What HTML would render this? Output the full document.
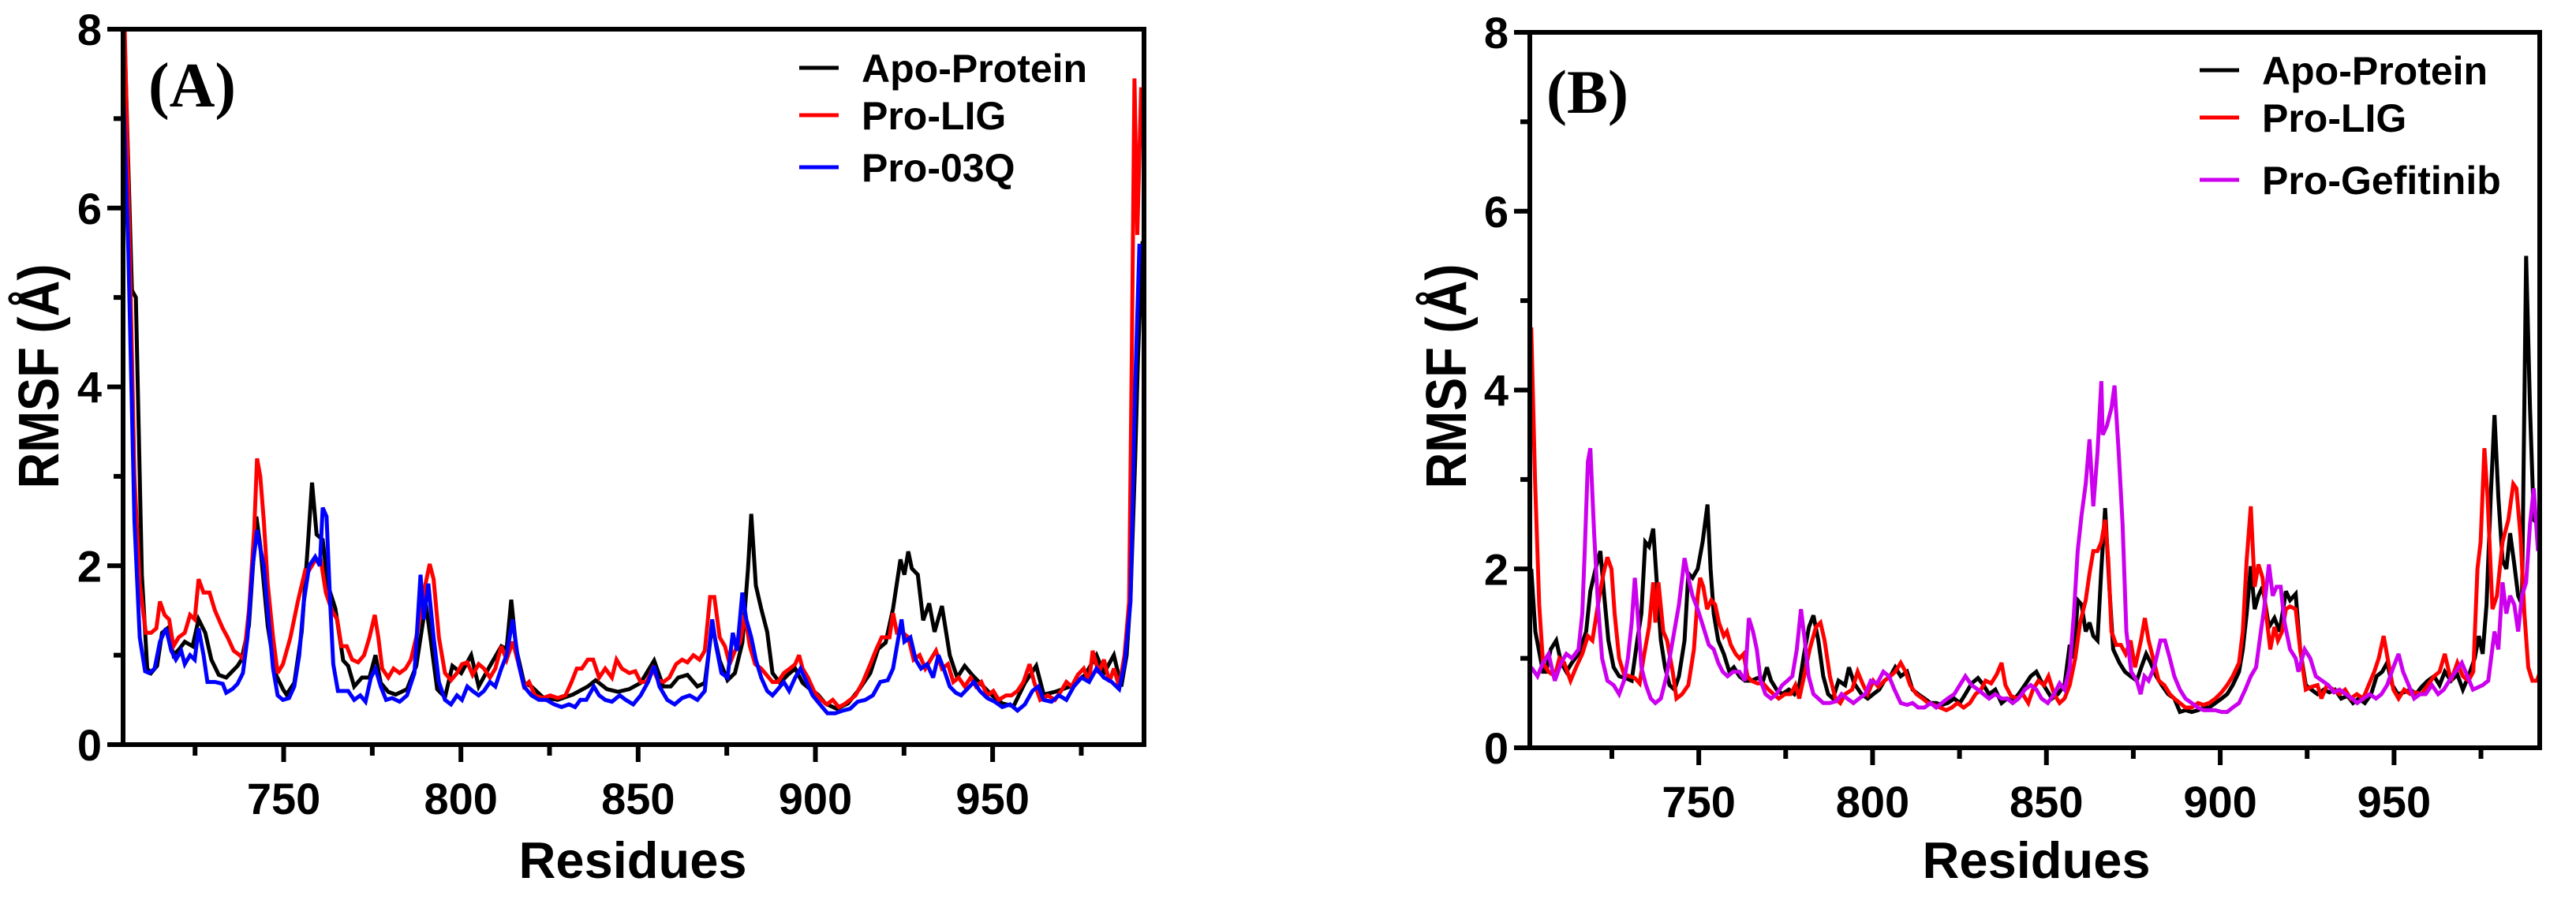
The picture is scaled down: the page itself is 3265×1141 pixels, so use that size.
<!DOCTYPE html>
<html><head><meta charset="utf-8"><style>
html,body{margin:0;padding:0;background:#fff;}
svg{display:block;}
text{font-family:"Liberation Sans",Arial,sans-serif;font-weight:bold;}
</style></head><body>
<svg id="fig" width="3265" height="1141" viewBox="0 0 3265 1141" xmlns="http://www.w3.org/2000/svg">
<defs>
<clipPath id="clipA"><rect x="156" y="37" width="1294" height="907"/></clipPath>
<clipPath id="clipB"><rect x="1939" y="41" width="1280" height="907"/></clipPath>
</defs>
<g id="panelA"></g>
<g id="panelB"></g>
</svg>
<script>
// ---------- Panel A data ----------
const apoResA=[704.7,707.2,708.3,710,711.5,712.6,714.3,715.7,717.2,718.9,720.6,722.1,724.3,726,727.9,729.6,731.7,733.8,737,738.1,740.2,742.3,743.4,745.5,747.6,749.8,750.8,753,755.1,756.8,758,759.3,761,762.5,764.6,766.8,768.2,769.9,772.1,774.2,775.9,777.4,779.5,781.6,784.8,787.4,790.1,791.6,793.3,795.5,797.6,800.1,802.9,805,808.2,811.4,812.9,814.2,815.6,817.8,819.9,823.1,827.3,831.6,835.8,838,841.2,844.3,847.5,850.7,854.5,857.1,859.2,861.3,863.9,866.7,868.8,870.9,873,875.2,877.3,879.4,881,881.9,883.2,884.7,886.4,887.9,890,892.2,894.3,896.4,898.5,900.7,902.8,906,909.2,912.4,915.5,917.7,919.8,921.9,924,925.1,926.2,927.2,928.9,930.4,932.1,933.6,935.7,937.9,940,942.1,944.2,946.4,949.6,952.7,955.9,959.1,962.3,964.4,967.6,971.9,976.1,979.3,981.4,984.2,986.3,987.8,988.9,990.2,991,992.3];
const apoA=[8.5,5.08,5.0,1.9,0.85,0.8,0.88,1.25,1.3,1.0,1.07,1.15,1.1,1.4,1.25,0.95,0.78,0.75,0.88,0.95,1.33,2.55,2.22,1.33,0.8,0.62,0.56,0.69,1.26,2.22,2.93,2.35,2.29,1.78,1.52,0.94,0.88,0.65,0.75,0.75,1.0,0.69,0.59,0.56,0.62,0.88,1.58,1.14,0.62,0.53,0.88,0.8,1.0,0.65,0.88,1.1,1.07,1.62,1.07,0.69,0.65,0.53,0.5,0.56,0.65,0.72,0.62,0.59,0.62,0.69,0.94,0.65,0.65,0.75,0.78,0.65,0.69,1.33,0.94,0.72,0.8,1.14,1.97,2.58,1.78,1.52,1.26,0.8,0.69,0.78,0.85,0.69,0.62,0.56,0.46,0.4,0.46,0.62,0.8,1.07,1.14,1.52,2.07,1.9,2.16,1.97,1.9,1.39,1.58,1.26,1.55,1.0,0.75,0.88,0.78,0.69,0.56,0.46,0.43,0.69,0.88,0.56,0.59,0.65,0.78,1.0,0.8,1.0,0.65,1.0,1.65,3.19,4.34,5.63];
const ligResA=[705.1,706.6,707.9,709.4,711.1,712.6,714.1,715.1,716.4,717.7,718.9,720.4,722.1,723.6,724.9,726,727.4,729.1,730.6,732.8,734.2,735.9,737.6,738.7,740.2,741.7,742.5,743.4,744.4,745.5,747,748.3,749.8,751.9,754,756.1,757.2,758.7,760.4,761.9,763.6,765.1,766.3,767.8,769.3,771,772.7,774.2,775.7,776.7,777.8,779.5,781,782.7,784.4,785.9,787.4,789.5,791.2,792.3,793.8,795.5,797.2,798.9,800.3,801.8,803.3,805,806.5,808.2,809.7,811.4,812.9,814.6,816.3,817.8,819.2,820.9,823.1,825.2,827.3,829.5,831.2,832.7,834.1,835.8,837.3,839,840.7,842.6,843.9,845.4,847.5,849.2,850.7,852.4,854.1,855.6,857.1,858.8,860.7,862.4,863.9,865.6,867.3,868.8,870.3,871.5,873,874.5,875.8,877.3,878.8,880.1,881.5,883,884.7,886.2,887.9,889.4,891.1,892.8,894.3,895.4,896.4,897.9,899.6,901.7,903.2,904.9,906.6,908.1,909.8,911.3,913.4,915.5,917,918.7,920.9,921.9,923,924.7,926.2,927.7,929.4,931,932.5,934,935.7,937.4,938.9,940.4,942.1,943.8,945.3,946.8,948.5,950.2,951.7,953.8,955.3,957,958.7,960.4,961.7,963.4,965.5,967.6,969.3,970.8,972.3,974,975.7,977.2,978.2,979.9,981.4,982.9,984.2,985.7,987.2,988.5,989.3,990,990.8,991.9];
const ligA=[8.1,5.5,3.0,1.8,1.25,1.25,1.3,1.6,1.45,1.4,1.1,1.2,1.25,1.45,1.4,1.85,1.7,1.7,1.5,1.3,1.2,1.05,1.0,0.95,1.5,2.4,3.2,3.0,2.5,1.8,1.2,0.8,0.9,1.2,1.6,1.95,1.95,2.05,2.08,1.7,1.5,1.4,1.1,1.1,0.95,0.92,1.0,1.2,1.45,1.2,0.85,0.75,0.85,0.8,0.85,0.95,1.2,1.7,2.02,1.85,1.2,0.8,0.72,0.8,0.9,0.92,0.78,0.9,0.85,0.75,0.85,1.1,0.95,1.15,0.9,0.65,0.7,0.55,0.52,0.55,0.52,0.55,0.7,0.85,0.85,0.95,0.95,0.75,0.85,0.75,0.95,0.85,0.8,0.82,0.7,0.7,0.85,0.72,0.7,0.75,0.9,0.95,0.92,1.0,0.95,1.05,1.65,1.65,1.2,1.1,0.9,1.05,1.15,1.45,1.1,0.9,0.85,0.78,0.7,0.7,0.8,0.85,0.9,1.0,0.85,0.75,0.6,0.5,0.45,0.5,0.42,0.45,0.5,0.55,0.7,0.9,1.05,1.2,1.2,1.47,1.25,1.25,1.2,0.95,1.0,0.85,0.95,1.05,0.85,0.9,0.7,0.75,0.65,0.75,0.65,0.7,0.55,0.6,0.5,0.55,0.55,0.6,0.7,0.9,0.7,0.5,0.55,0.5,0.6,0.7,0.65,0.78,0.85,0.7,1.05,0.8,0.95,0.7,0.85,0.65,1.0,1.6,4.5,7.45,5.7,7.35];
const q03ResA=[704.7,706.2,707.9,709.4,710.9,712.1,713.6,715.1,716.8,718.3,719.6,721.1,722.1,723.6,724.9,726,727.4,728.5,730.6,732.8,733.8,735.5,737,738.5,739.8,741.3,742.5,743.4,744.4,745.5,747,748.3,749.8,751.5,753,754.4,755.7,757.2,758.9,760.2,761,762.1,763.1,764,765.3,766.8,768.2,769.9,771.6,773.1,774.6,775.9,777.4,778.9,780.6,782.7,784.8,786.9,788.6,789.5,790.8,792.3,793.8,795.5,797.2,798.9,800.3,801.8,803.3,805,806.5,808.2,809.7,811.4,812.9,814.6,816.3,817.8,819.9,822,824.1,826.3,828.4,830.5,832.2,833.7,835.4,837.5,839,840.7,842.6,844.8,846.5,848.6,850.7,852.8,854.5,856,858.2,860.3,862.4,864.5,866.7,868.8,870.9,872,873.5,875.2,876.7,877.9,879.4,880.5,881.9,883.2,884.7,886.4,887.9,889.4,891.1,892.6,894.3,895.8,897.5,899.2,901.3,903.4,905.6,907.7,909.8,911.9,914.1,916.2,918.3,920.4,921.9,923,924.3,925.1,926.8,928.3,929.8,931.5,933.2,934.7,936.2,937.9,939.6,941.1,942.8,944.7,946.4,948.5,950.6,952.7,954.9,957,959.1,961.2,962.9,964.4,966.6,968.7,970.8,972.9,975.1,977.2,979.3,981.4,983.6,985.7,987.2,988.9,990.2,991.4];
const q03A=[7.35,5.5,2.5,1.2,0.82,0.8,0.85,1.15,1.3,1.05,0.95,1.05,0.9,1.0,0.95,1.3,1.0,0.7,0.7,0.68,0.58,0.62,0.68,0.8,1.2,2.0,2.4,2.2,2.0,1.5,0.85,0.55,0.5,0.52,0.65,1.0,1.6,2.0,2.1,2.0,2.65,2.55,1.6,0.9,0.6,0.6,0.6,0.5,0.55,0.48,0.75,0.85,0.65,0.5,0.52,0.48,0.55,0.8,1.9,1.4,1.8,1.2,0.7,0.5,0.45,0.55,0.5,0.65,0.6,0.55,0.6,0.7,0.65,0.85,1.0,1.4,0.9,0.65,0.55,0.5,0.5,0.45,0.42,0.45,0.42,0.5,0.5,0.65,0.55,0.5,0.48,0.55,0.5,0.45,0.55,0.7,0.88,0.65,0.5,0.45,0.52,0.55,0.5,0.6,1.4,1.1,0.8,0.75,1.25,1.05,1.7,1.4,1.2,0.95,0.75,0.6,0.55,0.62,0.7,0.6,0.75,0.85,0.7,0.55,0.45,0.35,0.35,0.38,0.4,0.48,0.5,0.55,0.7,0.72,0.85,1.1,1.4,1.15,1.2,0.95,0.85,0.9,0.75,1.0,0.85,0.65,0.58,0.55,0.62,0.7,0.6,0.52,0.48,0.42,0.45,0.38,0.45,0.6,0.65,0.5,0.48,0.55,0.5,0.65,0.75,0.7,0.85,0.75,0.7,0.62,0.9,1.6,4.0,5.6];

// ---------- Panel B data ----------
const apoResB=[701.8,703,705.2,706.1,707.4,709,710.4,711.9,713.5,715.4,717.6,718.8,720.3,721.7,722.8,724,725.5,727.1,728.9,730.7,732.3,733.5,734.6,735.7,736.9,738,739.1,740.3,741.6,743,744.3,745.9,747,748.2,749.7,751.1,752.5,753.4,754.3,755.6,757.2,758.8,760.1,761.7,763.3,765.1,766.9,768.5,769.6,770.8,772.4,774,775.9,777.5,778.9,780.3,781.7,783,784.4,785.8,787.2,788.6,790.2,792.1,793.2,794.7,796.8,798.6,800.2,801.9,803.4,805.1,806.5,808.1,809.9,811.5,813.1,814.9,816.7,818.3,819.9,821.6,823.5,825.1,826.7,828.5,830.3,831.9,833.5,835.3,837.1,838.7,840.3,842,843.8,845.5,847.1,848.4,850,851.6,853.3,855.2,856.7,857.9,859,860.1,861.3,862.4,863.5,864.7,865.8,866.9,868.1,869.2,871,872.6,874.2,876,877.3,878.7,880,881.6,883.2,885,886.8,888.4,890,891.8,893.6,895.2,896.8,898.6,900.4,902,903.6,905.4,906.5,907.6,908.8,909.9,911,912.2,914,915.6,917.1,918.9,920.1,921.7,923,924.6,926.2,928,929.8,931.4,933,934.8,936.6,938.2,939.8,941.6,943.4,945,946.6,948,949.5,951.1,952.9,954.7,956.3,957.9,959.7,961.5,963.1,964.6,966.4,968.2,969.8,971.4,973.2,974.4,975.5,976.6,977.8,978.9,980,981.2,982.3,983.4,984.6,985.7,986.8,988,989.1,990.2,991.4];
const apoB=[2.0,1.3,0.85,0.85,1.1,1.2,0.95,0.85,0.95,1.05,1.3,1.75,2.0,2.2,1.7,1.2,0.9,0.8,0.78,0.75,1.2,1.5,2.3,2.25,2.45,1.8,1.2,0.9,0.7,0.65,0.8,1.2,1.95,1.9,2.0,2.3,2.72,2.0,1.5,1.2,1.05,0.85,0.9,0.8,0.75,0.75,0.78,0.75,0.9,0.75,0.65,0.6,0.65,0.6,0.7,1.05,1.35,1.48,1.2,0.8,0.6,0.55,0.75,0.7,0.9,0.72,0.6,0.55,0.6,0.65,0.75,0.8,0.9,0.8,0.85,0.65,0.6,0.55,0.5,0.5,0.48,0.5,0.55,0.5,0.6,0.72,0.78,0.7,0.6,0.65,0.5,0.55,0.52,0.6,0.7,0.8,0.85,0.75,0.65,0.55,0.6,0.7,1.15,1.0,1.65,1.6,1.3,1.4,1.25,1.2,2.0,2.68,1.8,1.1,0.95,0.85,0.8,0.75,0.9,1.05,0.95,0.8,0.7,0.6,0.55,0.4,0.42,0.4,0.42,0.45,0.45,0.5,0.55,0.6,0.7,0.85,1.1,1.5,2.03,1.55,1.7,1.8,1.35,1.45,1.3,1.75,1.65,1.72,1.1,0.7,0.65,0.6,0.65,0.62,0.65,0.55,0.58,0.5,0.55,0.5,0.6,0.8,0.85,0.95,0.7,0.6,0.62,0.65,0.6,0.68,0.75,0.8,0.7,0.85,0.75,0.82,0.65,0.8,1.0,1.25,1.05,1.6,2.8,3.72,2.8,2.1,2.0,2.4,2.05,1.7,1.6,5.5,3.8,2.55,2.5];
const ligResB=[701.8,702.9,704.1,705.2,706.8,708.6,709.9,711.3,713.1,714.7,716.5,718.1,719.4,721,722.6,723.7,724.9,725.8,727.1,728.5,730.1,731.6,733,734.1,735.7,736.9,737.5,738.4,739.8,740.9,742.5,743.6,745.2,747,748.6,749.7,750.4,751.3,752.4,753.6,754.7,755.8,757.2,758.1,759.2,760.6,761.7,762.9,764,765.1,766.9,768.5,770.1,771.5,773,774.8,776.4,777.8,778.9,780.3,781.9,783.7,785,786.2,787.7,789.3,790.7,792.1,794.1,795.7,797.3,798.6,800.2,801.7,803.4,805.1,806.5,808.1,809.5,810.8,812.6,814.4,816,817.6,819.4,821.2,822.8,824.4,826.2,828,829.6,831.2,832.5,834.1,835.7,837.1,838.2,839.8,841.6,843.2,844.8,846.1,847.7,849.3,850.6,852.2,853.8,855.2,856.7,858.3,859.7,861.3,862.4,863.5,864.7,865.8,866.9,867.8,868.7,870.1,871.4,872.8,874.2,875.5,877.2,878.3,879.4,881,882.3,883.9,885.5,886.8,888.4,890,891.8,893.6,895.2,896.8,898.6,900.4,902,903.6,905.4,906.5,907.6,908.8,909.9,911,912.2,913.2,914.4,915.6,916.6,917.8,918.9,920.1,921.7,923,924.6,926.2,928,929.1,930.7,932.5,934.3,935.9,937.5,939.3,941.1,942.7,944.3,945.6,947,948.4,949.8,951.3,952.9,954.7,956.3,957.9,959.7,961.5,963.1,964.6,966.4,968.2,969.8,971.4,972.8,974,974.9,976,976.9,978.3,979.6,981.2,982.9,984.3,985.2,986.4,987.5,988.6,989.8,991.1,992];
const ligB=[4.7,3.0,1.6,0.95,0.85,0.8,1.0,0.95,0.75,0.9,1.05,1.25,1.2,1.6,1.95,2.13,2.0,1.5,1.0,0.82,0.8,0.78,0.72,1.0,1.35,1.85,1.4,1.85,1.3,1.2,0.85,0.55,0.6,0.7,1.1,1.7,1.9,1.8,1.55,1.65,1.6,1.4,1.25,1.3,1.15,1.05,1.0,1.05,0.8,0.75,0.72,0.72,0.65,0.6,0.55,0.6,0.6,0.7,0.55,0.8,1.1,1.35,1.4,1.2,0.8,0.55,0.5,0.6,0.65,0.85,0.7,0.6,0.75,0.68,0.75,0.8,0.85,0.95,0.85,0.7,0.6,0.55,0.5,0.48,0.45,0.42,0.45,0.5,0.45,0.5,0.6,0.65,0.75,0.72,0.82,0.95,0.7,0.58,0.55,0.6,0.5,0.65,0.75,0.7,0.8,0.6,0.5,0.55,0.7,1.0,1.4,1.65,1.95,2.2,2.2,2.3,2.55,2.1,1.3,1.15,1.15,1.05,1.2,0.9,1.2,1.45,1.2,0.95,0.75,0.7,0.6,0.55,0.5,0.45,0.45,0.5,0.48,0.5,0.55,0.62,0.7,0.8,0.95,1.3,2.1,2.7,1.8,2.05,1.9,1.5,1.1,1.35,1.2,1.3,1.55,1.58,1.55,1.1,0.65,0.68,0.7,0.55,0.7,0.65,0.6,0.65,0.55,0.6,0.55,0.7,0.85,1.0,1.25,0.95,0.65,0.55,0.65,0.6,0.62,0.6,0.7,0.8,0.85,1.05,0.75,0.95,0.8,0.75,0.85,2.0,2.3,3.35,2.8,1.55,1.7,2.3,2.55,2.95,2.9,2.35,1.5,0.9,0.75,0.75,0.85];
const gefResB=[701.8,703.6,705.2,706.8,708.6,710.4,711.9,713.5,715.4,716.5,717.2,718.1,718.8,719.9,721,722.2,723.7,725.5,727.1,728.5,729.6,730.7,731.6,732.6,733.5,734.8,736.2,737.5,739.1,740.7,742.5,744.3,745.9,747,748.2,749.7,751.3,752.9,754.3,755.6,756.9,758.3,759.9,761.7,763.3,764.4,765.6,766.7,767.8,769.2,770.8,772.4,774,775.5,776.9,778.2,779.4,780.5,781.6,783,784.4,785.8,787.7,789.6,791.1,792.7,794.5,796.1,797.9,799.5,801.3,803.1,804.7,806.3,808.1,809.9,811.5,813.1,814.9,816.7,818.3,819.9,821.6,823.5,825.1,826.7,828.5,830.3,831.9,833.5,835.3,837.1,838.7,840.3,842,843.8,845.5,847.1,848.6,850.4,852.2,853.8,855.2,856.7,857.9,859,860.1,861.3,862.4,863.5,864.7,865.8,866.2,867.4,868.7,869.6,870.8,871.9,873,874.4,876,877.1,878.2,879.4,881,882.8,884.1,885.5,886.8,888.4,890,891.8,893.6,895.2,896.8,898.6,900.4,902,903.6,905.4,907.2,908.8,910.3,911.7,912.6,914,915.1,916.2,917.4,918.5,920.1,921.7,922.5,924.3,925.9,927.5,929.3,931.1,932.7,934.3,936.1,937.9,939.4,941.2,943,944.8,946.4,948,949.8,951.3,952.6,954.2,955.8,957.5,959.1,960.9,962.7,964.3,965.9,967.7,969.5,971.1,972.7,975.5,977.1,978.9,980,981.2,982.3,983.4,984.6,985.7,986.8,988,989.1,990.2,991.4];
const gefB=[0.9,0.8,0.95,1.05,0.75,0.95,1.05,1.0,1.1,1.5,2.2,3.2,3.35,2.4,1.6,1.0,0.75,0.7,0.6,0.75,1.0,1.4,1.9,1.4,0.9,0.7,0.55,0.5,0.55,0.8,1.2,1.6,2.12,1.9,1.7,1.55,1.35,1.15,1.1,0.95,0.85,0.8,0.85,0.85,0.75,1.45,1.3,1.1,0.75,0.6,0.55,0.6,0.7,0.75,0.8,1.1,1.55,1.2,0.8,0.6,0.55,0.5,0.5,0.52,0.6,0.55,0.5,0.55,0.6,0.75,0.72,0.85,0.8,0.65,0.5,0.48,0.5,0.45,0.45,0.5,0.45,0.5,0.55,0.6,0.7,0.8,0.7,0.65,0.6,0.55,0.6,0.55,0.55,0.5,0.55,0.65,0.7,0.65,0.55,0.5,0.6,0.72,0.65,0.9,1.5,2.2,2.6,2.95,3.45,2.7,3.3,4.1,3.5,3.6,3.8,4.05,3.3,2.5,1.3,0.85,0.75,0.6,0.8,0.75,0.9,1.2,1.2,1.0,0.8,0.65,0.55,0.5,0.45,0.42,0.42,0.42,0.4,0.4,0.45,0.5,0.65,0.8,0.9,1.3,1.55,2.05,1.7,1.8,1.8,1.4,1.1,1.0,0.85,1.1,1.0,0.8,0.75,0.7,0.62,0.65,0.6,0.55,0.5,0.55,0.6,0.55,0.6,0.7,0.9,1.05,0.85,0.7,0.55,0.6,0.6,0.7,0.6,0.65,0.75,0.85,0.95,0.8,0.65,0.7,0.75,1.3,1.1,1.85,1.5,1.7,1.6,1.3,1.7,1.85,2.5,2.9,2.2];

// ---------- Axis config ----------
const yTicks=[0,2,4,6,8];
const yMinor=[1,3,5,7];
const xTicks=[750,800,850,900,950];
const xMinor=[725,775,825,875,925,975];

const NS='http://www.w3.org/2000/svg';
function mk(tag,attrs,parent){const e=document.createElementNS(NS,tag);for(const k in attrs)e.setAttribute(k,attrs[k]);parent.appendChild(e);return e;}

function panel(g,cfg){
  const sx=v=>cfg.L+(v-cfg.xmin)/(cfg.xmax-cfg.xmin)*(cfg.R-cfg.L);
  const sy=v=>cfg.B-(v/8)*(cfg.B-cfg.T);
  // series
  const sg=mk('g',{'clip-path':'url(#'+cfg.clip+')'},g);
  
  
  cfg.series.forEach(s=>{
    const n=Math.min(s.x.length,s.y.length);
    let pts=[];
    for(let i=0;i<n;i++)pts.push(sx(s.x[i]).toFixed(1)+','+sy(s.y[i]).toFixed(1));
    const p=mk('polyline',{points:pts.join(' '),fill:'none',stroke:s.color,'stroke-width':5,'stroke-linejoin':'miter','stroke-miterlimit':3},sg);
    
    
  });
  // frame
  const fr=mk('rect',{x:cfg.L,y:cfg.T,width:cfg.R-cfg.L,height:cfg.B-cfg.T,fill:'none',stroke:'#000','stroke-width':6},g);
  
  
  // y ticks
  yTicks.forEach(v=>{
    const l=mk('line',{x1:cfg.L-20,x2:cfg.L,y1:sy(v),y2:sy(v),stroke:'#000','stroke-width':6},g);
    
    
    const t=mk('text',{x:cfg.L-27,y:sy(v)+20,'text-anchor':'end','font-size':56},g);
    t.textContent=v;
    
    
  });
  yMinor.forEach(v=>{
    const l=mk('line',{x1:cfg.L-12,x2:cfg.L,y1:sy(v),y2:sy(v),stroke:'#000','stroke-width':6},g);
    
    
  });
  xTicks.forEach(v=>{
    const l=mk('line',{x1:sx(v),x2:sx(v),y1:cfg.B,y2:cfg.B+22,stroke:'#000','stroke-width':6},g);
    
    
    const t=mk('text',{x:sx(v),y:cfg.B+88,'text-anchor':'middle','font-size':56},g);
    t.textContent=v;
    
    
  });
  xMinor.forEach(v=>{
    if(v>cfg.xmax)return;
    const l=mk('line',{x1:sx(v),x2:sx(v),y1:cfg.B,y2:cfg.B+14,stroke:'#000','stroke-width':6},g);
    
    
  });
  // axis titles
  const yt=mk('text',{x:0,y:0,'text-anchor':'middle','font-size':72,transform:'translate('+(cfg.ytx)+',477) rotate(-90) scale(0.88,1)'},g);
  yt.textContent='RMSF (Å)';
  
  
  const xt=mk('text',{x:cfg.xtx,y:1113,'text-anchor':'middle','font-size':65},g);
  xt.textContent='Residues';
  
  
  // panel letter
  const pl=mk('text',{x:cfg.pl[0],y:cfg.pl[1],'font-size':cfg.pl[2],style:'font-family:"Liberation Serif","Times New Roman",serif;font-weight:bold'},g);
  pl.textContent=cfg.letter;
  
  
  // legend
  const lg=mk('g',{},g);
  
  
  cfg.series.forEach((s,i)=>{
    const y=cfg.legY[i];
    const ln=mk('line',{x1:cfg.legX,x2:cfg.legX+50,y1:y,y2:y,stroke:s.color,'stroke-width':5},lg);
    
    
    const t=mk('text',{x:cfg.legX+79,y:y+18,'font-size':50,transform:'',style:'font-weight:bold'},lg);
    t.textContent=s.label;
    
    
  });
}

panel(document.getElementById('panelA'),{L:156,R:1450,T:37,B:944,xmin:704.7,xmax:992.7,clip:'clipA',
  ytx:74,xtx:802,letter:'(A)',pl:[188,135,80],legX:1013,legY:[86,146,212],
  series:[{x:apoResA,y:apoA,color:'#000000',name:'apo-protein',label:'Apo-Protein'},
          {x:ligResA,y:ligA,color:'#ff0000',name:'pro-lig',label:'Pro-LIG'},
          {x:q03ResA,y:q03A,color:'#0000ff',name:'pro-03q',label:'Pro-03Q'}]});
panel(document.getElementById('panelB'),{L:1939,R:3219,T:41,B:948,xmin:701.4,xmax:991.9,clip:'clipB',
  ytx:1858,xtx:2581,letter:'(B)',pl:[1960,143,78],legX:2788,legY:[89,149,228],
  series:[{x:apoResB,y:apoB,color:'#000000',name:'apo-protein',label:'Apo-Protein'},
          {x:ligResB,y:ligB,color:'#ff0000',name:'pro-lig',label:'Pro-LIG'},
          {x:gefResB,y:gefB,color:'#cc00ee',name:'pro-gefitinib',label:'Pro-Gefitinib'}]});
</script>
</body></html>
